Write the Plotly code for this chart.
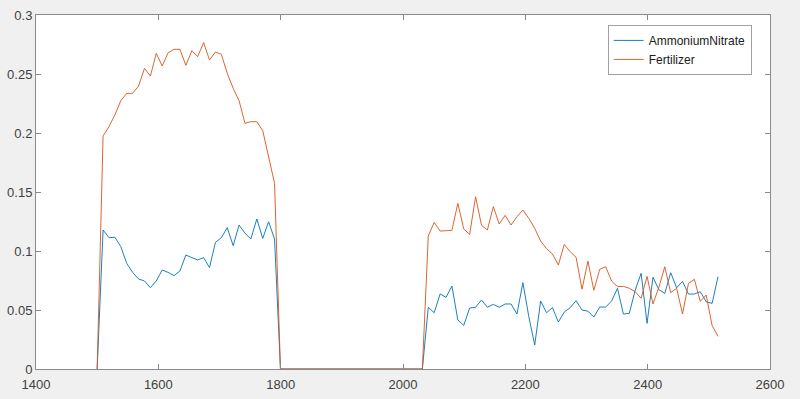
import numpy as np
import plotly.graph_objects as go

# x grid: uniform samples from 1500 to 2515 (106 samples)
x_start, x_end, n_samples = 1500.0, 2515.0, 106
wavelength = np.linspace(x_start, x_end, n_samples)

ammonium_block1 = [
    0.1178, 0.1113, 0.1116, 0.1037, 0.0895, 0.0819, 0.0763, 0.0746, 0.0689, 0.0746,
    0.0839, 0.0819, 0.0791, 0.0831, 0.0966, 0.0944, 0.0924, 0.0944, 0.0859, 0.1073,
    0.1113, 0.1198, 0.1045, 0.1220, 0.1150, 0.1102, 0.1271, 0.1107, 0.1248, 0.1102,
]
ammonium_block2 = [
    0.0523, 0.0477, 0.0636, 0.0607, 0.0703, 0.0415, 0.0370, 0.0517, 0.0523, 0.0585,
    0.0523, 0.0548, 0.0523, 0.0551, 0.0551, 0.0466, 0.0732, 0.0444, 0.0203, 0.0576,
    0.0477, 0.0520, 0.0398, 0.0483, 0.0520, 0.0579, 0.0500, 0.0490, 0.0440, 0.0525,
    0.0525, 0.0575, 0.0684, 0.0466, 0.0472, 0.0669, 0.0811, 0.0387, 0.0777, 0.0672,
    0.0641, 0.0816, 0.0688, 0.0743, 0.0635, 0.0635, 0.0655, 0.0570, 0.0556, 0.0782,
]
fertilizer_block1 = [
    0.1975, 0.2054, 0.2153, 0.2274, 0.2336, 0.2336, 0.2398, 0.2548, 0.2483, 0.2675,
    0.2568, 0.2680, 0.2709, 0.2709, 0.2573, 0.2697, 0.2647, 0.2766, 0.2619, 0.2686,
    0.2667, 0.2506, 0.2379, 0.2274, 0.2082, 0.2096, 0.2096, 0.2020, 0.1785, 0.1574,
]
fertilizer_block2 = [
    0.1127, 0.1243, 0.1169, 0.1169, 0.1175, 0.1404, 0.1186, 0.1141, 0.1460, 0.1218,
    0.1178, 0.1376, 0.1229, 0.1302, 0.1220, 0.1291, 0.1347, 0.1277, 0.1192, 0.1085,
    0.1020, 0.0975, 0.0881, 0.1056, 0.0994, 0.0946, 0.0676, 0.0914, 0.0667, 0.0845,
    0.0867, 0.0745, 0.0698, 0.0700, 0.0684, 0.0655, 0.0599, 0.0785, 0.0551, 0.0693,
    0.0867, 0.0647, 0.0684, 0.0466, 0.0726, 0.0760, 0.0573, 0.0627, 0.0368, 0.0277,
]
lead_zeros = [0.0]
gap_zeros = [0.0] * 25

ammonium = lead_zeros + ammonium_block1 + gap_zeros + ammonium_block2
fertilizer = lead_zeros + fertilizer_block1 + gap_zeros + fertilizer_block2

x_ticks = [1400, 1600, 1800, 2000, 2200, 2400, 2600]
y_ticks = [0, 0.05, 0.1, 0.15, 0.2, 0.25, 0.3]
y_tick_text = ["0", "0.05", "0.1", "0.15", "0.2", "0.25", "0.3"]

fig = go.Figure()
fig.add_trace(go.Scatter(x=wavelength, y=ammonium, mode="lines", name="AmmoniumNitrate",
                         line=dict(color="#0072BD", width=0.9)))
fig.add_trace(go.Scatter(x=wavelength, y=fertilizer, mode="lines", name="Fertilizer",
                         line=dict(color="#D95319", width=0.9)))

axis_col = "#8a8a8a"
font_col = "#404040"
fig.update_layout(
    width=800, height=399,
    paper_bgcolor="#f0f0f0", plot_bgcolor="#ffffff",
    margin=dict(l=36, r=30, t=15, b=30, autoexpand=False),
    font=dict(family="Liberation Sans, Arial, sans-serif", size=13, color=font_col),
    showlegend=True,
    legend=dict(x=0.975, y=0.972, xanchor="right", yanchor="top",
                bgcolor="#ffffff", bordercolor="#a0a0a0", borderwidth=1,
                font=dict(size=12, color="#202020"), itemwidth=30,
                tracegroupgap=0),
    xaxis=dict(range=[1400, 2600], tickvals=x_ticks, ticks="inside", ticklen=5,
               tickcolor=axis_col, showline=True, linecolor=axis_col, linewidth=1,
               mirror="ticks", showgrid=False, zeroline=False, ticklabelstandoff=3),
    yaxis=dict(range=[0, 0.3], tickvals=y_ticks, ticktext=y_tick_text, ticks="inside",
               ticklen=5, tickcolor=axis_col, showline=True, linecolor=axis_col,
               linewidth=1, mirror="ticks", showgrid=False, zeroline=False),
)

fig.write_html("out.html")
